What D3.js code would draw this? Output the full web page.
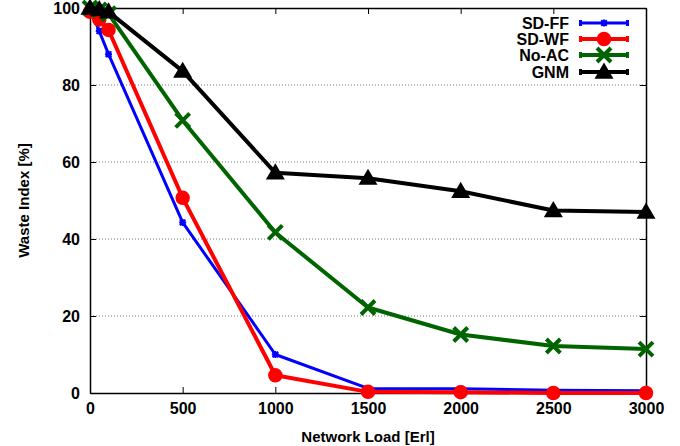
<!DOCTYPE html>
<html>
<head>
<meta charset="utf-8">
<script src="https://cdn.jsdelivr.net/npm/d3@7"></script>
<style>
  body { margin: 0; background: #fff; }
  svg { display: block; font-family: "Liberation Sans", Arial, sans-serif; font-weight: bold; }
</style>
</head>
<body>
<svg width="680" height="446"></svg>
<script>
// data
var loads = [0, 50, 100, 500, 1000, 1500, 2000, 2500, 3000];
var sdFF = [100, 94, 88, 44.3, 10, 1.2, 1.1, 0.7, 0.6];
var sdWF = [99, 97, 94.3, 50.7, 4.6, 0.3, 0.2, 0, 0];
var noAC = [100, 99.5, 98.5, 70.8, 41.7, 22.2, 15.2, 12.2, 11.4];
var gnm = [100, 99.6, 99, 83.6, 57.2, 55.8, 52.4, 47.4, 47];
var xTicks = [0, 500, 1000, 1500, 2000, 2500, 3000];
var yTicks = [0, 20, 40, 60, 80, 100];

var series = [
  {name: "SD-FF", values: sdFF, color: "#0000ff", width: 3, marker: "star"},
  {name: "SD-WF", values: sdWF, color: "#ff0000", width: 4, marker: "circle"},
  {name: "No-AC", values: noAC, color: "#006400", width: 4, marker: "cross"},
  {name: "GNM", values: gnm, color: "#000000", width: 4, marker: "triangle"}
];

var svg = d3.select("svg");
var pLeft = 90, pRight = 646, pTop = 8, pBottom = 393;

var x = d3.scaleLinear().domain([0, 3000]).range([pLeft, pRight]);
var y = d3.scaleLinear().domain([0, 100]).range([pBottom, pTop]);

// grid lines
svg.append("g").selectAll("line")
  .data([20, 40, 60, 80])
  .enter().append("line")
  .attr("x1", pLeft).attr("x2", pRight)
  .attr("y1", function (d) { return y(d); })
  .attr("y2", function (d) { return y(d); })
  .attr("stroke", "#777")
  .attr("stroke-width", 1)
  .attr("stroke-dasharray", "1,2");

// axes, ticks inward on all sides
var fontSize = 16;
var axB = svg.append("g").attr("transform", "translate(0," + pBottom + ")")
  .call(d3.axisBottom(x).tickValues(xTicks).tickSizeInner(-6).tickSizeOuter(0).tickPadding(10).tickFormat(d3.format("d")));
var axT = svg.append("g").attr("transform", "translate(0," + pTop + ")")
  .call(d3.axisTop(x).tickValues(xTicks).tickSizeInner(-6).tickSizeOuter(0).tickFormat(""));
var axL = svg.append("g").attr("transform", "translate(" + pLeft + ",0)")
  .call(d3.axisLeft(y).tickValues(yTicks).tickSizeInner(-6).tickSizeOuter(0).tickPadding(10));
var axR = svg.append("g").attr("transform", "translate(" + pRight + ",0)")
  .call(d3.axisRight(y).tickValues(yTicks).tickSizeInner(-6).tickSizeOuter(0).tickFormat(""));

[axB, axT, axL, axR].forEach(function (a) {
  a.selectAll("path").attr("stroke", "#000").attr("stroke-width", 1.5);
  a.selectAll("line").attr("stroke", "#000").attr("stroke-width", 1);
  a.selectAll("text").attr("fill", "#000")
    .style("font-size", fontSize + "px")
    .style("font-family", "Liberation Sans, Arial, sans-serif")
    .style("font-weight", "bold");
});

// axis titles
svg.append("text")
  .attr("x", (pLeft + pRight) / 2).attr("y", 442)
  .attr("text-anchor", "middle")
  .style("font-size", "15px")
  .text("Network Load [Erl]");

svg.append("text")
  .attr("transform", "translate(29," + ((pTop + pBottom) / 2) + ") rotate(-90)")
  .attr("text-anchor", "middle")
  .style("font-size", "15px")
  .text("Waste Index [%]");

// markers
function drawMarker(g, type, cx, cy, color) {
  if (type == "circle") {
    g.append("circle").attr("cx", cx).attr("cy", cy).attr("r", 6.5)
      .attr("fill", color).attr("stroke", color).attr("stroke-width", 1.5);
  }
  if (type == "cross") {
    var s = 7;
    g.append("path")
      .attr("d", "M" + (cx - s) + "," + (cy - s) + "L" + (cx + s) + "," + (cy + s) +
                 "M" + (cx - s) + "," + (cy + s) + "L" + (cx + s) + "," + (cy - s))
      .attr("stroke", color).attr("stroke-width", 4).attr("fill", "none");
  }
  if (type == "triangle") {
    var h = 9.5;
    g.append("path")
      .attr("d", "M" + cx + "," + (cy - h) + "L" + (cx + h) + "," + (cy + h * 0.7) +
                 "L" + (cx - h) + "," + (cy + h * 0.7) + "Z")
      .attr("fill", color);
  }
  if (type == "star") {
    var r = 3.5;
    g.append("path")
      .attr("d", "M" + (cx - r) + "," + cy + "L" + (cx + r) + "," + cy +
                 "M" + cx + "," + (cy - r) + "L" + cx + "," + (cy + r) +
                 "M" + (cx - r * 0.8) + "," + (cy - r * 0.8) + "L" + (cx + r * 0.8) + "," + (cy + r * 0.8) +
                 "M" + (cx - r * 0.8) + "," + (cy + r * 0.8) + "L" + (cx + r * 0.8) + "," + (cy - r * 0.8))
      .attr("stroke", color).attr("stroke-width", 2).attr("fill", "none");
  }
}

var line = d3.line()
  .x(function (d) { return x(d[0]); })
  .y(function (d) { return y(d[1]); });

series.forEach(function (s) {
  var pts = loads.map(function (l, i) { return [l, s.values[i]]; });
  var g = svg.append("g");
  g.append("path")
    .datum(pts)
    .attr("d", line)
    .attr("fill", "none")
    .attr("stroke", s.color)
    .attr("stroke-width", s.width)
    .attr("stroke-linejoin", "round");
  pts.forEach(function (p) {
    drawMarker(g, s.marker, x(p[0]), y(p[1]), s.color);
  });
});

// legend
var legY = [23, 39, 55, 72];
series.forEach(function (s, i) {
  var g = svg.append("g");
  g.append("text")
    .attr("x", 569).attr("y", legY[i]).attr("dy", "0.35em")
    .attr("text-anchor", "end")
    .style("font-size", "16px")
    .text(s.name);
  g.append("line")
    .attr("x1", 580).attr("x2", 628)
    .attr("y1", legY[i]).attr("y2", legY[i])
    .attr("stroke", s.color).attr("stroke-width", s.width);
  g.append("rect").attr("x", 579).attr("y", legY[i] - 3).attr("width", 3).attr("height", 6).attr("fill", s.color);
  g.append("rect").attr("x", 626).attr("y", legY[i] - 3).attr("width", 3).attr("height", 6).attr("fill", s.color);
  drawMarker(g, s.marker, 604, legY[i], s.color);
});
</script>
</body>
</html>
